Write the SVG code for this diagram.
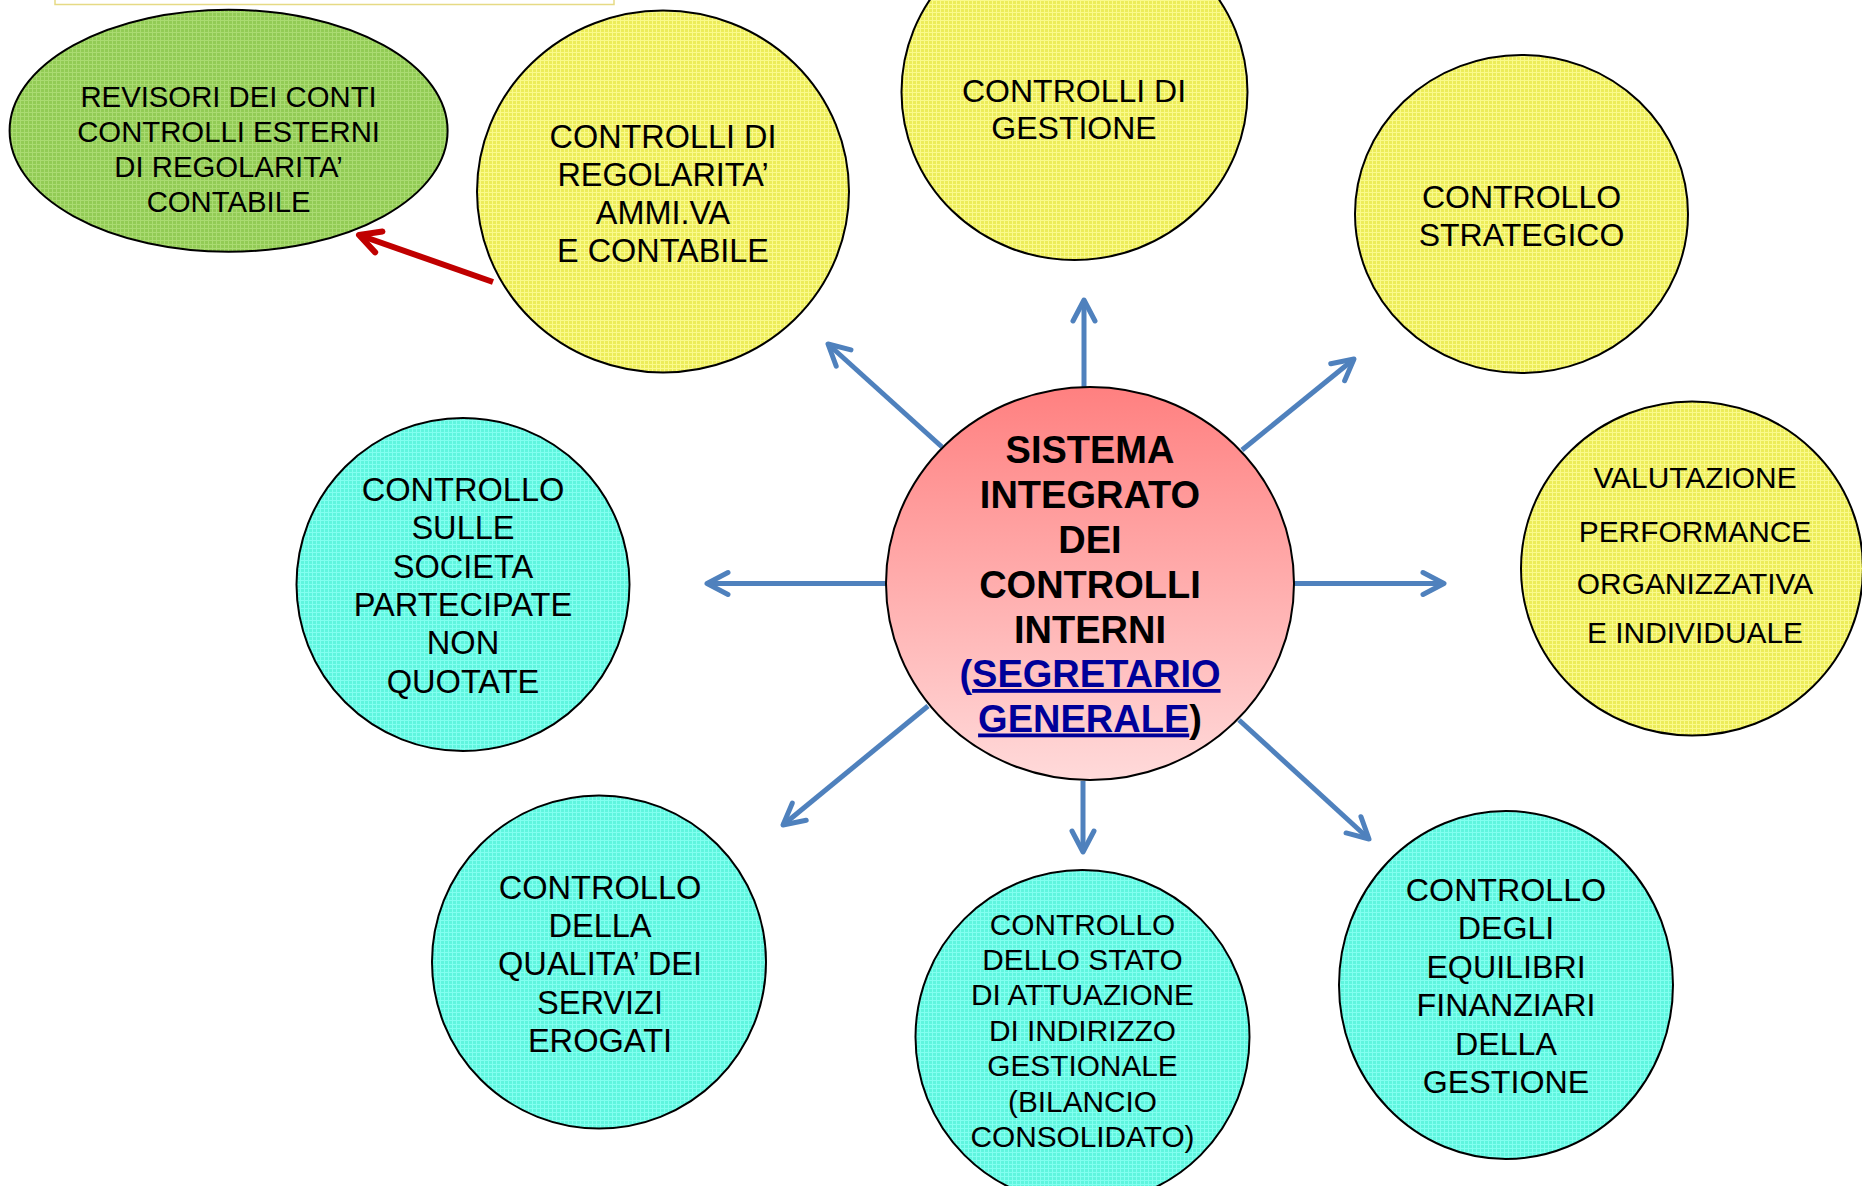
<svg xmlns="http://www.w3.org/2000/svg" width="1862" height="1186" viewBox="0 0 1862 1186">
<style>
.t{font-family:"Liberation Sans",Arial,sans-serif;fill:#000;text-anchor:middle}
.b{font-weight:bold;font-size:38px}
.n{stroke:#000;stroke-width:2}
.ar{stroke:#4F81BD;stroke-width:5;fill:none;marker-end:url(#ah)}
.rd{stroke:#C00000;stroke-width:6;fill:none;marker-end:url(#ahr)}
</style>
<defs>
<pattern id="py" width="4" height="4" patternUnits="userSpaceOnUse"><rect width="4" height="4" fill="#ECEC5A"/><path d="M0,0.5H4M0.5,0V4" stroke="#FAFA8C" stroke-width="1"/></pattern>
<pattern id="pc" width="4" height="4" patternUnits="userSpaceOnUse"><rect width="4" height="4" fill="#5FF5DE"/><path d="M0,0.5H4M0.5,0V4" stroke="#82FFF0" stroke-width="1"/></pattern>
<pattern id="pg" width="4" height="4" patternUnits="userSpaceOnUse"><rect width="4" height="4" fill="#92CB55"/><path d="M0,0.5H4M0.5,0V4" stroke="#AADB72" stroke-width="1"/></pattern>
<linearGradient id="gr" x1="0" y1="0" x2="0" y2="1"><stop offset="0" stop-color="#FF8080"/><stop offset="1" stop-color="#FFDADA"/></linearGradient>
<marker id="ah" markerUnits="userSpaceOnUse" markerWidth="40" markerHeight="40" refX="30" refY="20" orient="auto" overflow="visible"><path d="M9,9 L30,20 L9,31" fill="none" stroke="#4F81BD" stroke-width="5" stroke-linecap="round" stroke-linejoin="round"/></marker>
<marker id="ahr" markerUnits="userSpaceOnUse" markerWidth="40" markerHeight="40" refX="30" refY="20" orient="auto" overflow="visible"><path d="M9,9 L30,20 L9,31" fill="none" stroke="#C00000" stroke-width="6" stroke-linecap="round" stroke-linejoin="round"/></marker>
</defs>
<rect width="1862" height="1186" fill="#fff"/>
<rect x="55" y="-20" width="559" height="24.5" fill="#fff" stroke="#E6DA85" stroke-width="1.5"/>
<g id="connectors">
<line class="ar" x1="1084" y1="387" x2="1084" y2="300"/>
<line class="ar" x1="942" y1="447" x2="828" y2="344"/>
<line class="ar" x1="1242" y1="450" x2="1354" y2="359"/>
<line class="ar" x1="886" y1="583.5" x2="707" y2="583.5"/>
<line class="ar" x1="1294" y1="583.5" x2="1444" y2="583.5"/>
<line class="ar" x1="928" y1="706" x2="783" y2="825"/>
<line class="ar" x1="1083" y1="781" x2="1083" y2="852"/>
<line class="ar" x1="1239" y1="720" x2="1369" y2="839"/>
<line class="rd" x1="493" y1="282" x2="359" y2="235"/>
</g>
<g id="revisori">
<ellipse class="n" cx="228.6" cy="130.7" rx="219" ry="121" fill="url(#pg)"/>
<text class="t" font-size="29.3"><tspan x="228.6" y="106.5">REVISORI DEI CONTI</tspan><tspan x="228.6" y="141.8">CONTROLLI ESTERNI</tspan><tspan x="228.6" y="177">DI REGOLARITA’</tspan><tspan x="228.6" y="212.3">CONTABILE</tspan></text>
</g>
<g id="regolarita">
<ellipse class="n" cx="663" cy="191.5" rx="186" ry="181" fill="url(#py)"/>
<text class="t" font-size="32.4"><tspan x="663" y="147.5">CONTROLLI DI</tspan><tspan x="663" y="185.5">REGOLARITA’</tspan><tspan x="663" y="223.5">AMMI.VA</tspan><tspan x="663" y="261.5">E CONTABILE</tspan></text>
</g>
<g id="gestione">
<ellipse class="n" cx="1074.5" cy="92" rx="173" ry="168" fill="url(#py)"/>
<text class="t" font-size="32"><tspan x="1074" y="101.7">CONTROLLI DI</tspan><tspan x="1074" y="139">GESTIONE</tspan></text>
</g>
<g id="strategico">
<ellipse class="n" cx="1521.5" cy="214" rx="166.5" ry="159" fill="url(#py)"/>
<text class="t" font-size="32"><tspan x="1521.5" y="208">CONTROLLO</tspan><tspan x="1521.5" y="245.5">STRATEGICO</tspan></text>
</g>
<g id="valutazione">
<ellipse class="n" cx="1692" cy="568.5" rx="171" ry="167" fill="url(#py)"/>
<text class="t" font-size="29.9"><tspan x="1695" y="487.5">VALUTAZIONE</tspan><tspan x="1695" y="542">PERFORMANCE</tspan><tspan x="1695" y="593.5">ORGANIZZATIVA</tspan><tspan x="1695" y="643">E INDIVIDUALE</tspan></text>
</g>
<g id="societa">
<ellipse class="n" cx="463" cy="584.5" rx="166.5" ry="166.5" fill="url(#pc)"/>
<text class="t" font-size="32.6"><tspan x="463" y="500.5">CONTROLLO</tspan><tspan x="463" y="539">SULLE</tspan><tspan x="463" y="577.5">SOCIETA</tspan><tspan x="463" y="615.5">PARTECIPATE</tspan><tspan x="463" y="654">NON</tspan><tspan x="463" y="692.5">QUOTATE</tspan></text>
</g>
<g id="qualita">
<ellipse class="n" cx="599" cy="962" rx="167" ry="166.5" fill="url(#pc)"/>
<text class="t" font-size="32.6"><tspan x="600" y="899">CONTROLLO</tspan><tspan x="600" y="937">DELLA</tspan><tspan x="600" y="975">QUALITA’ DEI</tspan><tspan x="600" y="1013.5">SERVIZI</tspan><tspan x="600" y="1052">EROGATI</tspan></text>
</g>
<g id="bilancio">
<ellipse class="n" cx="1082.5" cy="1037" rx="167" ry="167" fill="url(#pc)"/>
<text class="t" font-size="29.8"><tspan x="1082.5" y="934.5">CONTROLLO</tspan><tspan x="1082.5" y="969.5">DELLO STATO</tspan><tspan x="1082.5" y="1005">DI ATTUAZIONE</tspan><tspan x="1082.5" y="1040.5">DI INDIRIZZO</tspan><tspan x="1082.5" y="1076">GESTIONALE</tspan><tspan x="1082.5" y="1111.5">(BILANCIO</tspan><tspan x="1082.5" y="1147">CONSOLIDATO)</tspan></text>
</g>
<g id="equilibri">
<ellipse class="n" cx="1506" cy="985" rx="167" ry="174" fill="url(#pc)"/>
<text class="t" font-size="32.2"><tspan x="1506" y="900.5">CONTROLLO</tspan><tspan x="1506" y="939">DEGLI</tspan><tspan x="1506" y="977.5">EQUILIBRI</tspan><tspan x="1506" y="1016">FINANZIARI</tspan><tspan x="1506" y="1054.5">DELLA</tspan><tspan x="1506" y="1093">GESTIONE</tspan></text>
</g>
<g id="sistema">
<ellipse class="n" cx="1090" cy="583.5" rx="204" ry="196.5" fill="url(#gr)"/>
<text class="t b"><tspan x="1090" y="463">SISTEMA</tspan><tspan x="1090" y="508">INTEGRATO</tspan><tspan x="1090" y="553">DEI</tspan><tspan x="1090" y="598">CONTROLLI</tspan><tspan x="1090" y="643">INTERNI</tspan></text>
<text class="t b" x="1090" y="687"><tspan fill="#000099">(</tspan><tspan fill="#000099" text-decoration="underline">SEGRETARIO</tspan></text>
<text class="t b" x="1090" y="731.5"><tspan fill="#000099" text-decoration="underline">GENERALE</tspan>)</text>
</g>
</svg>
